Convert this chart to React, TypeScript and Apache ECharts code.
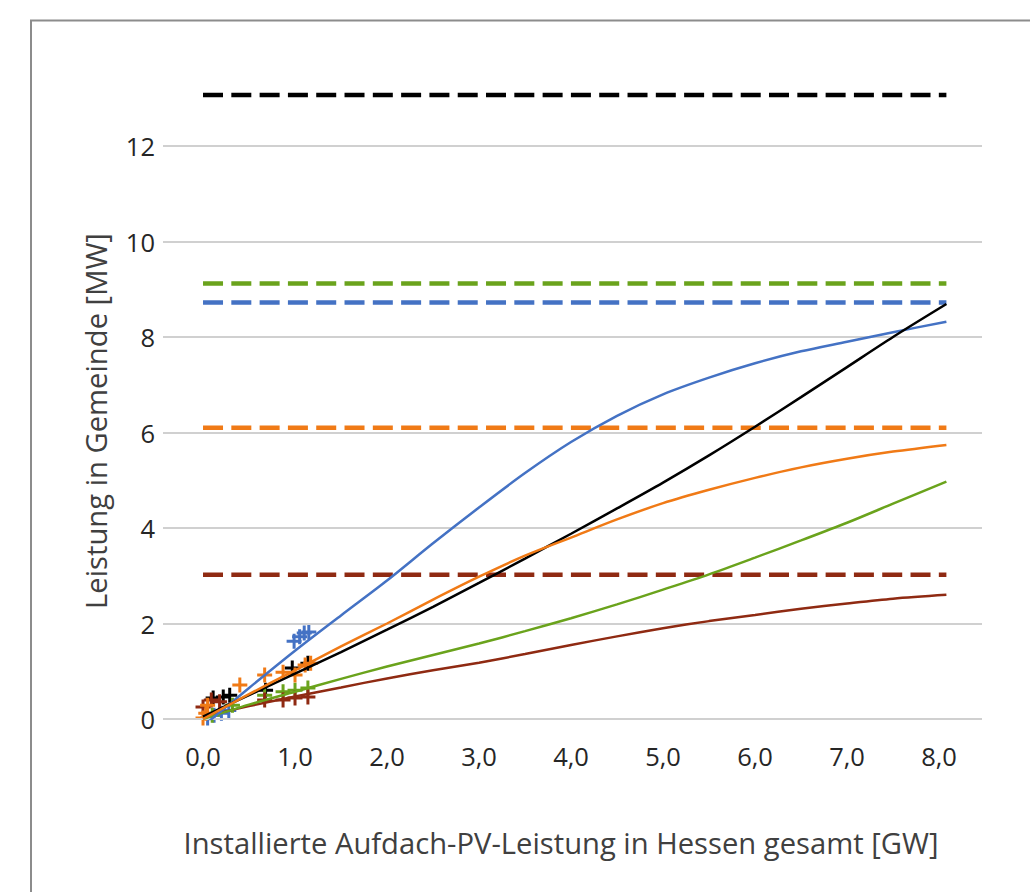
import React, { useEffect, useRef } from "react";
import * as echarts from "echarts";

// ---- data ----
const xTicks = [0, 1, 2, 3, 4, 5, 6, 7, 8];
const yTicks = [0, 2, 4, 6, 8, 10, 12];
const xEnd = 8.08;

// horizontal limit lines (dashed)
const limitBlue = 8.72;
const limitGreen = 9.12;
const limitBlack = 13.07;
const limitOrange = 6.1;
const limitRed = 3.02;

// fitted curves
const curveX = [0, 0.5, 1, 1.5, 2, 2.5, 3, 3.5, 4, 4.5, 5, 5.5, 6, 6.5, 7, 7.5, 8.08];
const curveBlue = [-0.15, 0.65, 1.43, 2.17, 2.9, 3.68, 4.43, 5.15, 5.8, 6.35, 6.8, 7.15, 7.45, 7.7, 7.9, 8.1, 8.32];
const curveBlack = [0.05, 0.5, 0.95, 1.4, 1.87, 2.35, 2.85, 3.36, 3.88, 4.41, 4.95, 5.52, 6.12, 6.74, 7.37, 8.0, 8.69];
const curveOrange = [0, 0.52, 1.02, 1.52, 2.0, 2.5, 2.98, 3.42, 3.8, 4.18, 4.52, 4.8, 5.05, 5.27, 5.45, 5.6, 5.74];
const curveGreen = [0, 0.3, 0.57, 0.84, 1.1, 1.34, 1.58, 1.84, 2.11, 2.4, 2.71, 3.03, 3.38, 3.74, 4.11, 4.51, 4.97];
const curveRed = [0.05, 0.27, 0.47, 0.66, 0.85, 1.02, 1.18, 1.36, 1.55, 1.73, 1.9, 2.05, 2.18, 2.31, 2.42, 2.52, 2.6];

// measured points
const ptsBlueX = [0.05, 0.12, 0.2, 0.28, 0.99, 1.05, 1.1, 1.15];
const ptsBlueY = [0.02, 0.08, 0.12, 0.18, 1.63, 1.72, 1.8, 1.82];
const ptsBlackX = [0.11, 0.22, 0.29, 0.68, 0.97, 1.14];
const ptsBlackY = [0.44, 0.46, 0.5, 0.6, 1.07, 1.17];
const ptsOrangeX = [0.0, 0.03, 0.05, 0.4, 0.67, 0.87, 1.0, 1.11, 1.17];
const ptsOrangeY = [0.02, 0.12, 0.29, 0.71, 0.92, 0.98, 0.92, 1.13, 1.17];
const ptsGreenX = [0.1, 0.32, 0.67, 0.87, 1.0, 1.14];
const ptsGreenY = [0.08, 0.29, 0.5, 0.57, 0.6, 0.65];
const ptsRedX = [0.0, 0.09, 0.18, 0.67, 0.87, 1.0, 1.14];
const ptsRedY = [0.25, 0.4, 0.36, 0.4, 0.4, 0.44, 0.46];

const COLORS = {
  blue: "#4472C4",
  black: "#000000",
  orange: "#F07A16",
  green: "#6AA31C",
  red: "#8F2A12",
};

const zip = (xs: number[], ys: number[]) => xs.map((x, i) => [x, ys[i]]);
const PLUS = "path://M40,0H60V40H100V60H60V100H40V60H0V40H40Z";

export default function App() {
  const ref = useRef<HTMLDivElement>(null);
  useEffect(() => {
    if (!ref.current) return;
    const chart = echarts.init(ref.current, undefined, { renderer: "svg" });
    const font = "'Open Sans', 'Noto Sans', sans-serif";

    const dashed = (name: string, v: number, color: string) => ({
      name,
      type: "line",
      data: [
        [0, v],
        [xEnd, v],
      ],
      showSymbol: false,
      symbol: "none",
      lineStyle: { color, width: 4.5, type: [20, 8.3] },
      z: 3,
      silent: true,
    });
    const curve = (name: string, ys: number[], color: string, z: number) => ({
      name,
      type: "line",
      data: zip(curveX, ys),
      smooth: 0.3,
      showSymbol: false,
      symbol: "none",
      lineStyle: { color, width: 2.5 },
      z,
      silent: true,
    });
    const pts = (name: string, xs: number[], ys: number[], color: string) => ({
      name,
      type: "scatter",
      data: zip(xs, ys),
      symbol: PLUS,
      symbolSize: 15,
      itemStyle: { color, opacity: 1 },
      z: 4,
      silent: true,
    });

    chart.setOption({
      animation: false,
      backgroundColor: "#ffffff",
      grid: { left: 163, right: 48, top: 50.5, bottom: 173 },
      xAxis: {
        type: "value",
        min: -0.435,
        max: 8.467,
        axisLine: { show: false },
        axisTick: { show: false },
        splitLine: { show: false },
        axisLabel: {
          customValues: xTicks,
          formatter: (v: number) => v.toFixed(1).replace(".", ","),
          fontFamily: font,
          fontSize: 25.5,
          color: "#262626",
          margin: 24,
        },
      },
      yAxis: {
        type: "value",
        min: 0,
        max: 14,
        interval: 2,
        axisLine: { show: false },
        axisTick: { show: false },
        splitLine: { show: false },
        axisLabel: {
          formatter: (v: number) => (v > 12 ? "" : String(v)),
          fontFamily: font,
          fontSize: 25.5,
          color: "#262626",
          margin: 8,
        },
      },
      graphic: [
        {
          type: "rect",
          shape: { x: 31, y: 20.5, width: 1200, height: 1000 },
          style: { fill: "none", stroke: "#8c8c8c", lineWidth: 2 },
          silent: true,
        },
        {
          type: "text",
          x: 561,
          y: 843,
          style: {
            text: "Installierte Aufdach-PV-Leistung in Hessen gesamt [GW]",
            fontFamily: font,
            fontSize: 29.2,
            fill: "#404040",
            align: "center",
            verticalAlign: "middle",
          },
          silent: true,
        },
        {
          type: "text",
          x: 96,
          y: 421,
          rotation: Math.PI / 2,
          style: {
            text: "Leistung in Gemeinde [MW]",
            fontFamily: font,
            fontSize: 29.2,
            fill: "#404040",
            align: "center",
            verticalAlign: "middle",
          },
          silent: true,
        },
      ],
      series: [
        {
          name: "grid",
          type: "line",
          data: [],
          silent: true,
          z: 1,
          markLine: {
            silent: true,
            symbol: ["none", "none"],
            label: { show: false },
            lineStyle: { color: "#d0d0d0", width: 2, type: "solid" },
            data: yTicks.map((v) => ({ yAxis: v })),
          },
        },
        dashed("Grenze schwarz", limitBlack, COLORS.black),
        dashed("Grenze grün", limitGreen, COLORS.green),
        dashed("Grenze blau", limitBlue, COLORS.blue),
        dashed("Grenze orange", limitOrange, COLORS.orange),
        dashed("Grenze rot", limitRed, COLORS.red),
        pts("Punkte blau", ptsBlueX, ptsBlueY, COLORS.blue),
        pts("Punkte schwarz", ptsBlackX, ptsBlackY, COLORS.black),
        pts("Punkte grün", ptsGreenX, ptsGreenY, COLORS.green),
        pts("Punkte rot", ptsRedX, ptsRedY, COLORS.red),
        pts("Punkte orange", ptsOrangeX, ptsOrangeY, COLORS.orange),
        curve("Kurve rot", curveRed, COLORS.red, 5),
        curve("Kurve grün", curveGreen, COLORS.green, 5),
        curve("Kurve blau", curveBlue, COLORS.blue, 5),
        curve("Kurve schwarz", curveBlack, COLORS.black, 6),
        curve("Kurve orange", curveOrange, COLORS.orange, 7),
      ],
    });
    return () => chart.dispose();
  }, []);

  return (
    <div
      ref={ref}
      style={{ position: "fixed", left: 0, top: 0, width: 1030, height: 892 }}
    />
  );
}
